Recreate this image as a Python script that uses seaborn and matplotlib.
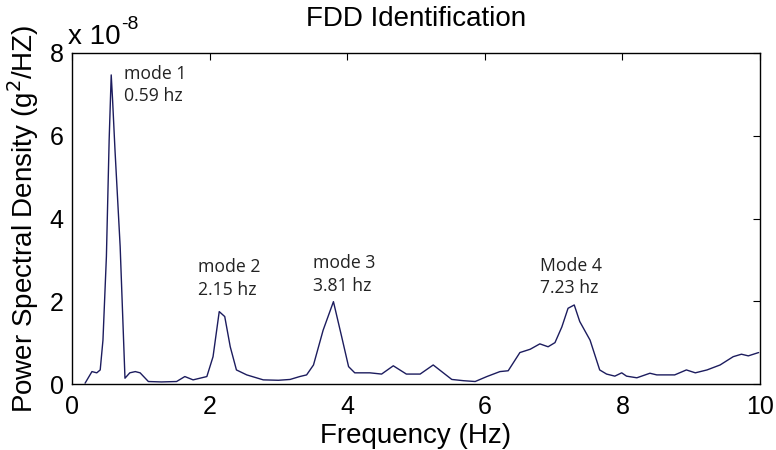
import matplotlib
matplotlib.use("Agg")
import matplotlib.pyplot as plt
import seaborn as sns
import pandas as pd

# Frequency (Hz) and PSD (units of 1e-8 g^2/Hz)
freq = [0.19, 0.29, 0.36, 0.41, 0.45, 0.50, 0.54, 0.57, 0.59, 0.625, 0.70, 0.77,
        0.84, 0.92, 0.99, 1.11, 1.30, 1.52, 1.64, 1.76, 1.96, 2.05, 2.14, 2.22,
        2.30, 2.39, 2.54, 2.78, 3.00, 3.17, 3.31, 3.41, 3.51, 3.65, 3.80, 3.92,
        4.02, 4.11, 4.33, 4.50, 4.67, 4.86, 5.06, 5.25, 5.52, 5.69, 5.86, 6.03,
        6.22, 6.34, 6.51, 6.66, 6.80, 6.92, 7.02, 7.12, 7.21, 7.30, 7.38, 7.53,
        7.67, 7.77, 7.89, 7.99, 8.06, 8.21, 8.40, 8.50, 8.76, 8.93, 9.06, 9.23,
        9.42, 9.61, 9.73, 9.83, 9.98]
psd = [0.02, 0.30, 0.27, 0.34, 1.06, 3.08, 5.90, 7.47, 6.86, 5.65, 3.32, 0.14,
       0.27, 0.30, 0.27, 0.06, 0.05, 0.06, 0.18, 0.10, 0.18, 0.66, 1.75, 1.63,
       0.90, 0.34, 0.22, 0.10, 0.09, 0.11, 0.18, 0.22, 0.46, 1.30, 1.99, 1.14,
       0.42, 0.27, 0.27, 0.24, 0.44, 0.24, 0.24, 0.46, 0.11, 0.08, 0.06, 0.18,
       0.30, 0.32, 0.76, 0.84, 0.97, 0.90, 1.00, 1.38, 1.83, 1.91, 1.51, 1.06,
       0.34, 0.24, 0.19, 0.27, 0.19, 0.15, 0.26, 0.22, 0.22, 0.34, 0.27, 0.34,
       0.46, 0.66, 0.72, 0.68, 0.76]

mode_labels = ["mode 1\n0.59 hz", "mode 2\n2.15 hz", "mode 3\n3.81 hz", "Mode 4\n7.23 hz"]
mode_x = [0.76, 1.83, 3.50, 6.80]
mode_y = [7.72, 3.05, 3.14, 3.08]

xticks = [0, 2, 4, 6, 8, 10]
yticks = [0, 2, 4, 6, 8]

sns.set_style("white")
plt.rcParams['font.family'] = ['Liberation Sans', 'DejaVu Sans']
plt.rcParams['text.color'] = 'black'
plt.rcParams['axes.labelcolor'] = 'black'

df = pd.DataFrame({"Frequency": freq, "PSD": psd})

fig = plt.figure(figsize=(7.76, 4.5), dpi=100)
ax = fig.add_axes([72 / 776, 1 - 384 / 450, (760 - 72) / 776, (384 - 53) / 450])

sns.lineplot(data=df, x="Frequency", y="PSD", ax=ax, color="#1c1c5e", linewidth=1.0)

ax.set_xlim(0, 10)
ax.set_ylim(0, 8)
ax.set_xticks(xticks)
ax.set_yticks(yticks)
ax.tick_params(direction="in", length=5, width=0.8, top=True, right=True,
               labelsize=18, colors="black")
ax.tick_params(axis="x", pad=8)
ax.tick_params(axis="y", pad=6)
for s in ax.spines.values():
    s.set_color("black")
    s.set_linewidth(1.0)

ax.set_xlabel("Frequency (Hz)", fontsize=20, va="center")
ax.xaxis.set_label_coords(0.5, (384 - 436) / 331)
ax.set_ylabel("Power Spectral Density (g$^2$/HZ)", fontsize=20, va="center")
ax.yaxis.set_label_coords((23 - 72) / 688, 0.5)
ax.text(0.5, 1 + (53 - 19) / 331, "FDD Identification", transform=ax.transAxes,
        fontsize=20, ha="center", va="center")

fig.text(68 / 776, 1 - 44 / 450, "x 10", fontsize=20, ha="left", va="baseline")
fig.text(121 / 776, 1 - 29 / 450, "-8", fontsize=14, ha="left", va="baseline")

for lab, x, y in zip(mode_labels, mode_x, mode_y):
    ax.text(x, y, lab, fontsize=12.7, family=["Open Sans", "DejaVu Sans"],
            color="#222222", ha="left", va="top", linespacing=1.35)

fig.savefig("out.png", dpi=100)
